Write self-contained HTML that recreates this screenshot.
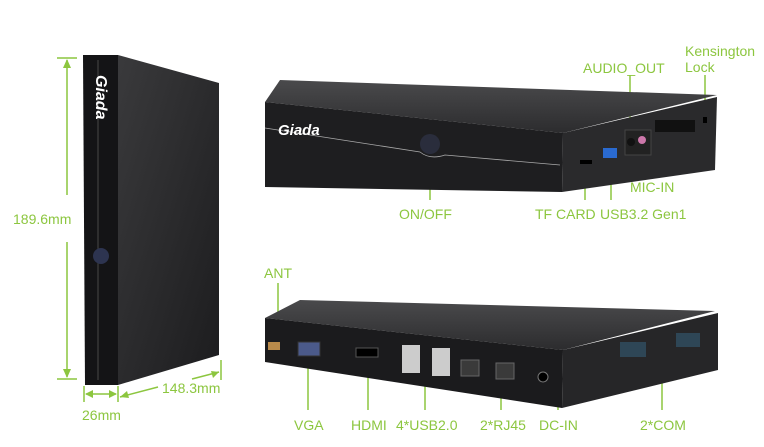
<!DOCTYPE html>
<html><head><meta charset="utf-8"><style>
html,body{margin:0;padding:0;background:#fff;width:764px;height:447px;overflow:hidden}
svg text{font-family:"Liberation Sans",Arial,sans-serif;font-size:14px;fill:#8cc63f}
</style></head><body>
<svg width="764" height="447" viewBox="0 0 764 447" xmlns="http://www.w3.org/2000/svg">
<defs>
<linearGradient id="side" x1="0" y1="0" x2="1" y2="1"><stop offset="0" stop-color="#3a3a3c"/><stop offset="1" stop-color="#1c1c1e"/></linearGradient>
<linearGradient id="top" x1="0" y1="0" x2="0" y2="1"><stop offset="0" stop-color="#4a4a4c"/><stop offset="1" stop-color="#2c2c2e"/></linearGradient>
</defs>
<g stroke="#8cc63f" stroke-width="1.5" fill="none">
<line x1="57" y1="58" x2="77" y2="58"/><line x1="57" y1="379" x2="77" y2="379"/>
<line x1="67" y1="60" x2="67" y2="195"/><line x1="67" y1="242" x2="67" y2="377"/>
<line x1="84" y1="386" x2="84" y2="402"/><line x1="118" y1="386" x2="118" y2="402"/>
<line x1="86" y1="394" x2="116" y2="394"/>
<line x1="120" y1="397" x2="158" y2="387"/><line x1="192" y1="379" x2="219" y2="372"/>
<line x1="221" y1="360" x2="221" y2="380"/>
<line x1="430" y1="150" x2="430" y2="200"/>
<line x1="585" y1="165" x2="585" y2="200"/>
<line x1="611" y1="160" x2="611" y2="200"/>
<line x1="630" y1="75" x2="630" y2="142"/>
<line x1="642" y1="145" x2="642" y2="172"/>
<line x1="705" y1="75" x2="705" y2="120"/>
<line x1="278" y1="283" x2="278" y2="343"/>
<line x1="308" y1="348" x2="308" y2="410"/>
<line x1="368" y1="355" x2="368" y2="410"/>
<line x1="425" y1="365" x2="425" y2="410"/>
<line x1="501" y1="368" x2="501" y2="410"/>
<polyline points="545,377 558,377 558,410"/>
<line x1="662" y1="350" x2="662" y2="410"/>
</g>
<g fill="#8cc63f">
<polygon points="67,59 63,68 71,68"/><polygon points="67,378 63,369 71,369"/>
<polygon points="85,394 93,390 93,398"/><polygon points="117,394 109,390 109,398"/>
<polygon points="120,397 127,391 129,398"/><polygon points="219,372 211,371 213,378"/>
</g>
<polygon points="118,55 219,83 219,355 118,385" fill="url(#side)"/>
<polygon points="83,55 118,55 118,385 85,385" fill="#141416"/>
<line x1="98" y1="60" x2="98" y2="380" stroke="#555" stroke-width="0.8"/>
<circle cx="101" cy="256" r="8" fill="#2d3450"/>
<text x="0" y="0" transform="translate(96,75) rotate(90)" style="fill:#fff;font-weight:bold;font-style:italic;font-size:16px">Giada</text>
<polygon points="265,102 280,80 717,95 563,133" fill="url(#top)"/>
<polygon points="265,102 563,133 562,192 265,187" fill="#1e1e20"/>
<polygon points="563,133 717,97 715,170 562,192" fill="#2a2a2c"/>
<path d="M265,128 L420,152 Q430,160 445,155 L560,165" stroke="#aaa" stroke-width="0.8" fill="none"/>
<text x="278" y="135" style="fill:#fff;font-weight:bold;font-style:italic;font-size:15px">Giada</text>
<circle cx="430" cy="144" r="10" fill="#2a2d3c"/>
<rect x="580" y="160" width="12" height="4" fill="#000"/>
<rect x="603" y="148" width="14" height="10" fill="#2a6ad0"/>
<rect x="625" y="130" width="26" height="25" fill="#222" stroke="#444"/>
<circle cx="631" cy="142" r="4" fill="#111"/><circle cx="642" cy="140" r="4" fill="#c7a"/>
<rect x="655" y="120" width="40" height="12" fill="#111"/>
<rect x="703" y="117" width="4" height="6" fill="#000"/>
<polygon points="265,318 300,300 715,311 563,350" fill="url(#top)"/>
<polygon points="265,318 563,350 562,408 265,362" fill="#1b1b1d"/>
<polygon points="563,350 718,313 718,370 562,408" fill="#262628"/>
<rect x="268" y="342" width="12" height="8" fill="#b98a4a"/>
<rect x="298" y="342" width="22" height="14" fill="#4b5a8a" stroke="#333"/>
<rect x="356" y="348" width="22" height="9" fill="#000" stroke="#555"/>
<rect x="402" y="345" width="18" height="28" fill="#ccc"/>
<rect x="432" y="348" width="18" height="28" fill="#ccc"/>
<rect x="461" y="360" width="18" height="16" fill="#3a3a3a" stroke="#666"/>
<rect x="496" y="363" width="18" height="16" fill="#3a3a3a" stroke="#666"/>
<circle cx="543" cy="377" r="5" fill="#000" stroke="#777"/>
<rect x="620" y="342" width="26" height="15" fill="#2e4656"/>
<rect x="676" y="333" width="24" height="14" fill="#2e4656"/>
<text x="13" y="224">189.6mm</text>
<text x="162" y="393">148.3mm</text>
<text x="82" y="420">26mm</text>
<text x="399" y="219">ON/OFF</text>
<text x="535" y="219">TF CARD</text>
<text x="600" y="219">USB3.2 Gen1</text>
<text x="630" y="192">MIC-IN</text>
<text x="583" y="73">AUDIO_OUT</text>
<text x="685" y="56">Kensington</text>
<text x="685" y="72">Lock</text>
<text x="264" y="278">ANT</text>
<text x="294" y="430">VGA</text>
<text x="351" y="430">HDMI</text>
<text x="396" y="430">4*USB2.0</text>
<text x="480" y="430">2*RJ45</text>
<text x="539" y="430">DC-IN</text>
<text x="640" y="430">2*COM</text>
</svg>
</body></html>
